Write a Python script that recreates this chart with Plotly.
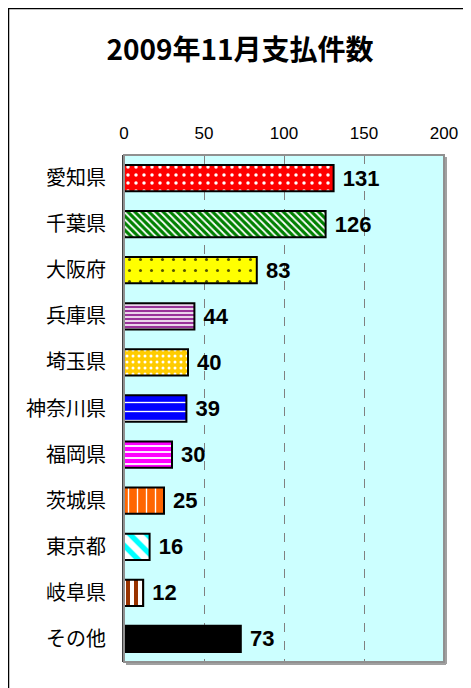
import plotly.graph_objects as go

categories = ["愛知県", "千葉県", "大阪府", "兵庫県", "埼玉県", "神奈川県", "福岡県", "茨城県", "東京都", "岐阜県", "その他"]
values = [131, 126, 83, 44, 40, 39, 30, 25, 16, 12, 73]
tick_vals = [0, 50, 100, 150, 200]

bg_colors = ["#FF0000", "#008000", "#FFFF00", "#993399", "#FFCC00", "#0000FF", "#FF00FF", "#FF6600", "#FFFFFF", "#FFFFFF", "#000000"]
fg_colors = ["#FFFFFF", "#FFFFFF", "#555500", "#FFFFFF", "#FFFFFF", "#FFFFFF", "#FFFFFF", "#FFFFFF", "#00FFFF", "#993300", "#000000"]
shapes_ = [".", "\\", ".", "-", ".", "-", "-", "|", "\\", "|", ""]
sizes = [8, 5, 11, 4, 6, 9, 6, 9, 12, 8, 8]
solid = [0.15, 0.35, 0.06, 0.4, 0.2, 0.15, 0.3, 0.15, 0.45, 0.5, 0.3]

W, H = 463, 680
ML, MR, MT, MB = 116, 27, 147, 26
PW, PH = W - ML - MR, H - MT - MB

fig = go.Figure()
fig.add_trace(go.Bar(
    y=categories, x=values, orientation="h",
    width=0.57,
    marker=dict(
        color="#000000",
        line=dict(color="#000000", width=2),
        pattern=dict(shape=shapes_, fgcolor=fg_colors, bgcolor=bg_colors, size=sizes, solidity=solid,
                     fillmode="replace", fgopacity=1),
    ),
    text=[f" {v}" for v in values], textposition="outside", cliponaxis=False,
    textfont=dict(family="Liberation Sans Narrow, Liberation Sans", size=22, color="#000000", weight="bold"),
))

fig.update_layout(
    width=W, height=H,
    margin=dict(l=ML, r=MR, t=MT, b=MB),
    paper_bgcolor="#FFFFFF", plot_bgcolor="#CCFFFF",
    showlegend=False,
    title=dict(text="<b>2009年11月支払件数</b>", x=(240 - 8) / W, xanchor="center", y=1 - (50 - 8) / H, yanchor="middle",
               font=dict(family="Noto Sans CJK JP", size=28, color="#000000")),
    font=dict(family="Noto Sans CJK JP", size=16, color="#000000"),
)
fig.update_xaxes(side="top", range=[0, 200], tickvals=tick_vals, ticktext=[str(t) for t in tick_vals],
                 showgrid=True, gridcolor="#808080", griddash="dash", gridwidth=1,
                 zeroline=False, showline=False, ticks="", ticklabelstandoff=12,
                 tickfont=dict(family="Liberation Sans Narrow, Liberation Sans", size=17))
fig.update_yaxes(autorange="reversed", showgrid=False, zeroline=False, ticks="",
                 showline=True, linecolor="#404040", linewidth=2, ticklabelstandoff=12,
                 tickfont=dict(family="Noto Sans CJK JP", size=20))

# plot area frame with shadow
fig.add_shape(type="rect", xref="paper", yref="paper", x0=0, x1=1, y0=0, y1=1,
              line=dict(color="#909090", width=2), layer="above")
fig.add_shape(type="line", xref="paper", yref="paper", x0=1 + 2 / PW, x1=1 + 2 / PW, y0=-2 / PH, y1=1 - 2 / PH,
              line=dict(color="#A0A0A0", width=2), layer="above")
fig.add_shape(type="line", xref="paper", yref="paper", x0=2 / PW, x1=1 + 2 / PW, y0=-2 / PH, y1=-2 / PH,
              line=dict(color="#A0A0A0", width=2), layer="above")
# outer chart frame
fig.add_shape(type="rect", xref="paper", yref="paper",
              x0=-(ML - 0.5) / PW, x1=1 + (MR + 10) / PW, y0=-(MB + 10) / PH, y1=1 + (MT - 0.5) / PH,
              line=dict(color="#000000", width=1.5), layer="above")

fig.write_html("out.html")
